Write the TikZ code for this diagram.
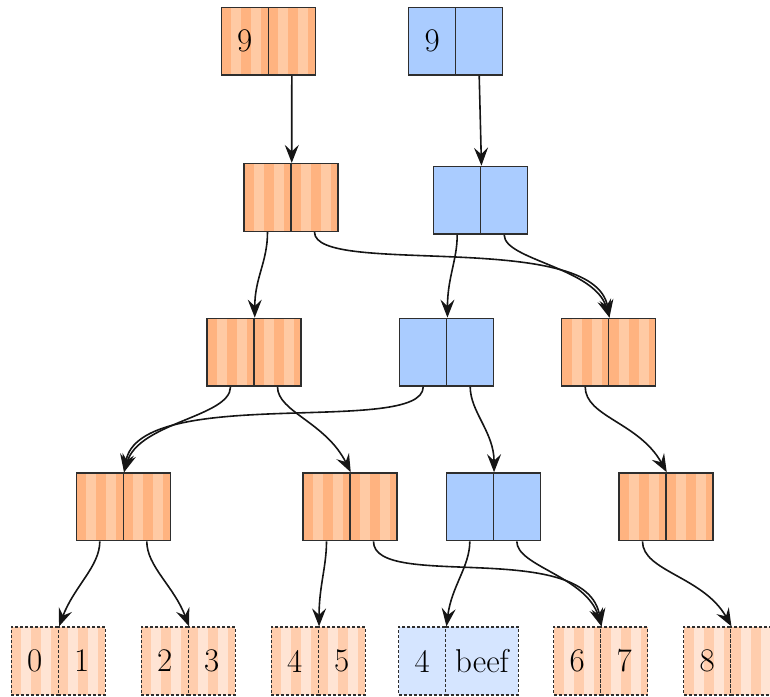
\documentclass[tikz,border=0pt]{standalone}
\usetikzlibrary{arrows.meta}

\definecolor{orgdark}{HTML}{FFB380}
\definecolor{orglight}{HTML}{FFCAA4}
\definecolor{leafdark}{HTML}{FFCDAD}
\definecolor{leaflight}{HTML}{FFE4D4}
\definecolor{bluecell}{HTML}{AACCFF}
\definecolor{blueleaf}{HTML}{D5E5FF}
\definecolor{rimgray}{HTML}{2E2E2E}
\definecolor{inkgray}{HTML}{151515}

\tikzset{
  cell/.style={rectangle, minimum width=47pt, minimum height=67.7pt,
    inner sep=0pt, draw=rimgray, line width=1.5pt, text=black,
    font=\fontsize{33}{39}\selectfont},
  stripes/.style={path picture={
    \foreach \s in {10,30,50} {
      \fill[#1] ([xshift=\s pt]path picture bounding box.south west)
        rectangle ([xshift=\s pt+10pt]path picture bounding box.north west);
    }}},
  ocell/.style={cell, fill=orgdark, stripes=orglight},
  bcell/.style={cell, fill=bluecell},
  oleaf/.style={cell, dash pattern=on 3pt off 2pt, fill=leafdark, stripes=leaflight},
  bleaf/.style={cell, dash pattern=on 3pt off 2pt, fill=blueleaf},
  link/.style={draw=inkgray, line width=1.6pt,
    -{Stealth[length=18pt, width=14pt, inset=6.5pt]}}
}

\begin{document}
\begin{tikzpicture}[x=1pt, y=-1pt]
\useasboundingbox (0,0) rectangle (770,696);

% level 1: the two roots
\node[ocell] (o1a) at (244.8,41.2) {9};
\node[ocell] (o1b) at (291.8,41.2) {};
\node[bcell] (b1a) at (432.2,41.2) {9};
\node[bcell] (b1b) at (479.2,41.2) {};

% level 2
\node[ocell] (o2a) at (267.5,197.5) {};
\node[ocell] (o2b) at (314.5,197.5) {};
\node[bcell] (b2a) at (457.2,200.3) {};
\node[bcell] (b2b) at (504.2,200.3) {};

% level 3
\node[ocell] (o3a) at (230.5,352.2) {};
\node[ocell] (o3b) at (277.5,352.2) {};
\node[bcell] (b3a) at (423.2,352.2) {};
\node[bcell] (b3b) at (470.2,352.2) {};
\node[ocell] (o5a) at (585.2,352.2) {};
\node[ocell] (o5b) at (632.2,352.2) {};

% level 4
\node[ocell] (o6a) at (99.8,506.8) {};
\node[ocell] (o6b) at (146.8,506.8) {};
\node[ocell] (o7a) at (326.5,506.8) {};
\node[ocell] (o7b) at (373.5,506.8) {};
\node[bcell] (b4a) at (469.8,506.8) {};
\node[bcell] (b4b) at (516.8,506.8) {};
\node[ocell] (o8a) at (642.5,506.8) {};
\node[ocell] (o8b) at (689.5,506.8) {};

% leaves
\node[oleaf] (l0a) at (34.8,661) {0};
\node[oleaf] (l0b) at (81.8,661) {1};
\node[oleaf] (l2a) at (164.8,661) {2};
\node[oleaf] (l2b) at (211.8,661) {3};
\node[oleaf] (l4a) at (294.8,661) {4};
\node[oleaf] (l4b) at (341.8,661) {5};
\node[bleaf] (lba) at (422.2,661) {4};
\node[bleaf, minimum width=72.6pt] (lbb) at (482,661) {beef};
\node[oleaf] (l6a) at (577.2,661) {6};
\node[oleaf] (l6b) at (624.2,661) {7};
\node[oleaf] (l8a) at (707.2,661) {8};
\node[oleaf] (l8b) at (754.2,661) {};

% pointers
\draw[link] (o1b.south) -- (o2a.north east);
\draw[link] (b1b.south) -- (b2a.north east);

\draw[link] (o2a.south) .. controls +(0,30) and +(0,-40) .. (o3a.north east);
\draw[link] (o2b.south) .. controls +(0,45) and +(-15,-89) .. (o5a.north east);
\draw[link] (b2a.south) .. controls +(0,25) and +(0,-40) .. (b3a.north east);
\draw[link] (b2b.south) .. controls +(0,25) and +(-15,-50) .. (o5a.north east);

\draw[link] (o3a.south) .. controls +(0,30) and +(15,-50) .. (o6a.north east);
\draw[link] (o3b.south) .. controls +(0,25) and +(-25,-50) .. (o7a.north east);
\draw[link] (b3a.south) .. controls +(0,50) and +(15,-89) .. (o6a.north east);
\draw[link] (b3b.south) .. controls +(0,25) and +(0,-40) .. (b4a.north east);
\draw[link] (o5a.south) .. controls +(0,30) and +(-28,-50) .. (o8a.north east);

\draw[link] (o6a.south) .. controls +(0,25) and +(15,-40) .. (l0a.north east);
\draw[link] (o6b.south) .. controls +(0,25) and +(-15,-40) .. (l2a.north east);
\draw[link] (o7a.south) .. controls +(0,25) and +(0,-40) .. (l4a.north east);
\draw[link] (o7b.south) .. controls +(0,50) and +(-15,-89) .. (l6a.north east);
\draw[link] (b4a.south) .. controls +(0,25) and +(5,-40) .. (lba.north east);
\draw[link] (b4b.south) .. controls +(0,25) and +(-15,-50) .. (l6a.north east);
\draw[link] (o8a.south) .. controls +(0,30) and +(-28,-50) .. (l8a.north east);
\end{tikzpicture}
\end{document}
